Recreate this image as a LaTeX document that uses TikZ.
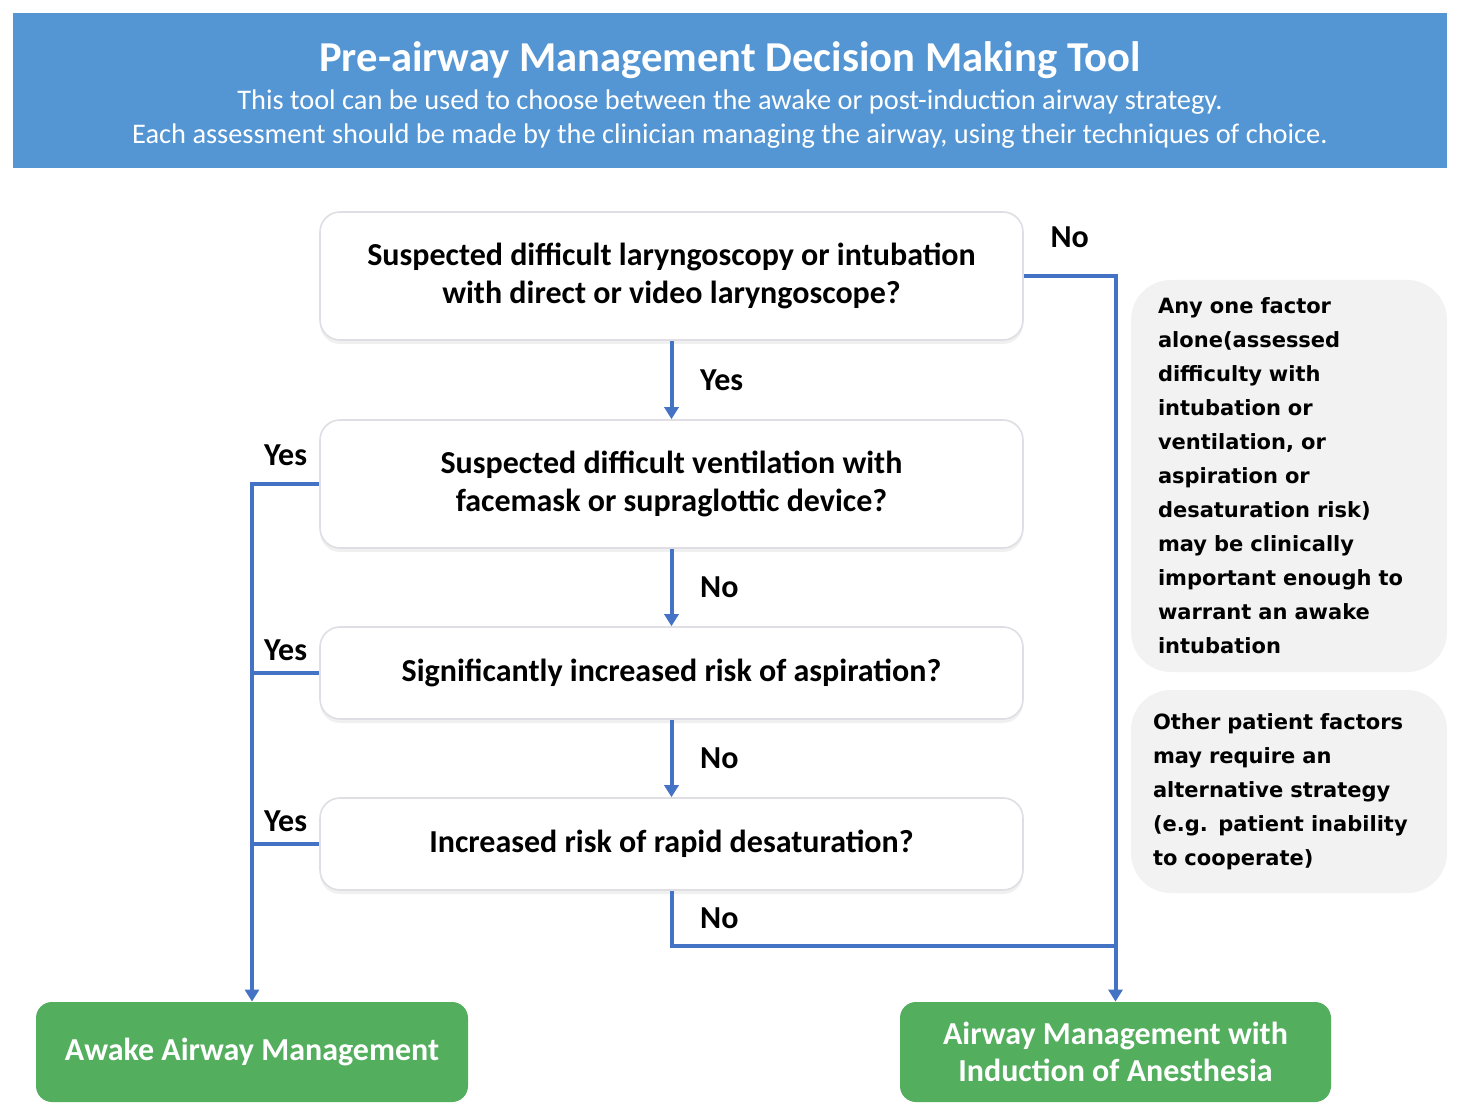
\documentclass[tikz,border=0pt]{standalone}
\usepackage{fontspec}
\setmainfont{Carlito}
\newfontfamily\notefont{DejaVu Sans}
\definecolor{headblue}{RGB}{84,150,212}
\definecolor{flowblue}{RGB}{68,114,196}
\definecolor{endgreen}{RGB}{83,174,94}
\definecolor{notegray}{RGB}{242,242,242}
\definecolor{rimgray}{RGB}{222,222,228}
\usetikzlibrary{arrows.meta, positioning, shadows}

\begin{document}
\begin{tikzpicture}[x=0.5pt, y=-0.5pt,
    question/.style={draw=rimgray, line width=0.8pt, fill=white, rounded corners=10pt,
      minimum width=351.5pt, align=center, font=\fontsize{16}{19}\selectfont\bfseries,
      drop shadow={opacity=0.12, shadow xshift=0pt, shadow yshift=-2pt}},
    outcome/.style={fill=endgreen, rounded corners=8pt, minimum width=216pt, minimum height=50pt,
      align=center, text=white, font=\fontsize{16}{18.5}\selectfont\bfseries},
    note/.style={fill=notegray, rounded corners=20pt, align=left,
      font=\notefont\fontsize{10.5}{17}\selectfont\bfseries},
    flow/.style={draw=flowblue, line width=2pt},
    flowarrow/.style={flow, -{Triangle[width=7pt, length=6pt]}},
    answer/.style={font=\fontsize{16}{19}\selectfont\bfseries}]
  \useasboundingbox (0,0) rectangle (1464,1118);

  % Header banner
  \node[fill=headblue, minimum width=717pt, minimum height=77.5pt] (head) at (730,90.5) {};
  \node[text=white, font=\fontsize{21.3}{25}\selectfont\bfseries] (title) at (730,60)
    {Pre-airway Management Decision Making Tool};
  \node[text=white, font=\fontsize{14.2}{17}\selectfont] (subA) at (730,102)
    {This tool can be used to choose between the awake or post-induction airway strategy.};
  \node[text=white, font=\fontsize{14.2}{17}\selectfont] (subB) at (730,136)
    {Each assessment should be made by the clinician managing the airway, using their techniques of choice.};

  % Questions
  \node[question, minimum height=64pt] (intub) at (671.5,276)
    {Suspected difficult laryngoscopy or intubation\\with direct or video laryngoscope?};
  \node[question, minimum height=64pt] (vent) at (671.5,484)
    {Suspected difficult ventilation with\\facemask or supraglottic device?};
  \node[question, minimum height=46pt] (aspir) at (671.5,673)
    {Significantly increased risk of aspiration?};
  \node[question, minimum height=46pt] (desat) at (671.5,844)
    {Increased risk of rapid desaturation?};

  % Outcomes
  \node[outcome] (awake) at (252,1052) {Awake Airway Management};
  \node[outcome, minimum width=215.5pt] (induct) at (1115.5,1052)
    {Airway Management with\\Induction of Anesthesia};

  % Side notes
  \node[note, minimum width=158pt, minimum height=196pt, text width=131pt, inner xsep=13.5pt] (factor) at (1289,476)
    {Any one factor\\alone(assessed\\difficulty with\\intubation or\\ventilation, or\\aspiration or\\desaturation risk)\\may be clinically\\important enough to\\warrant an awake\\intubation};
  \node[note, minimum width=158pt, minimum height=101.5pt, text width=136pt, inner xsep=11pt] (other) at (1289,791.5)
    {Other patient factors\\may require an\\alternative strategy\\(e.g. patient inability\\to cooperate)};

  % Main line down
  \draw[flowarrow] (intub) -- node[answer, right, xshift=10pt] {Yes} (vent);
  \draw[flowarrow] (vent) -- node[answer, right, xshift=10pt] {No} (aspir);
  \draw[flowarrow] (aspir) -- node[answer, right, xshift=10pt] {No} (desat);

  % Right branch
  \coordinate (joinR) at (1115.5,946);
  \draw[flowarrow] (intub.east) -| node[answer, pos=0.25, above, yshift=10pt] {No} (induct.north);
  \draw[flow] (desat.south) |- node[answer, pos=0.25, right, xshift=10pt] {No} (joinR);

  % Left branch
  \draw[flowarrow] (vent.west) -| node[answer, pos=0.25, above, yshift=5pt] {Yes} (awake.north);
  \draw[flow] (aspir.west) -- node[answer, above, yshift=2pt] {Yes} (aspir.west -| awake.north);
  \draw[flow] (desat.west) -- node[answer, above, yshift=2pt] {Yes} (desat.west -| awake.north);
\end{tikzpicture}
\end{document}
